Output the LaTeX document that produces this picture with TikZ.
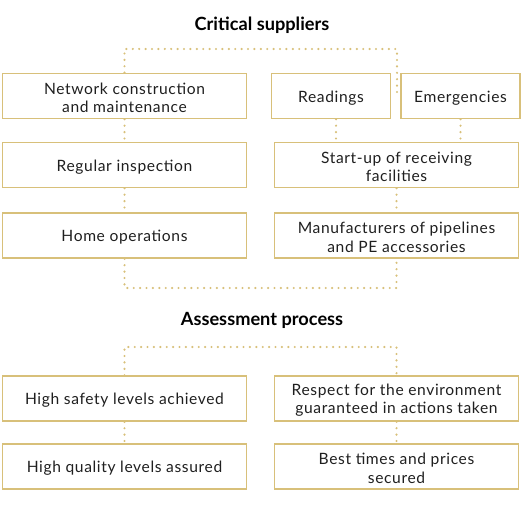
\documentclass[tikz,border=0pt]{standalone}
\usepackage{fontspec}
\setmainfont{Lato}[LetterSpace=4]
\newfontfamily\titlefont{Lato}[LetterSpace=0]
\definecolor{gold}{RGB}{216,192,122}
\begin{document}
\begin{tikzpicture}[x=1pt,y=-1pt,
  box/.style={draw=gold,line width=1.6pt,rectangle,inner sep=0pt,minimum height=45pt},
  lbl/.style={align=center,inner sep=0pt,yshift=-1.8pt,
    font=\fontsize{15.6}{18.5}\selectfont,text=black!88},
  wide/.style={box,minimum width=244pt},
  small/.style={box,minimum width=119pt},
  dots/.style={draw=gold,line width=2.4pt,line cap=round,dash pattern=on 0pt off 6.4pt},
  ttl/.style={font=\titlefont\bfseries\fontsize{18.2}{21}\selectfont,text=black}]
\useasboundingbox (0,0) rectangle (526,526);
\node[ttl] (t1) at (262,25) {Critical suppliers};
\node[ttl] (t2) at (262,320.5) {Assessment process};

\node[wide,label={[lbl]center:{Network construction\\and maintenance}}] (net) at (124.5,96) {};
\node[small,label={[lbl]center:{Readings}}] (read) at (331,96) {};
\node[small,label={[lbl]center:{Emergencies}}] (emerg) at (460.5,96) {};
\node[wide,label={[lbl]center:{Regular inspection}}] (reg) at (124.5,165) {};
\node[wide,label={[lbl]center:{Start-up of receiving\\facilities}}] (start) at (396.5,165) {};
\node[wide,label={[lbl]center:{Home operations}}] (home) at (124.5,235.5) {};
\node[wide,label={[lbl]center:{Manufacturers of pipelines\\and PE accessories}}] (manuf) at (396.5,235.5) {};

\node[wide,label={[lbl]center:{High safety levels achieved}}] (safe) at (124.5,398.5) {};
\node[wide,label={[lbl]center:{Respect for the environment\\guaranteed in actions taken}}] (resp) at (396.5,398.5) {};
\node[wide,label={[lbl]center:{High quality levels assured}}] (qual) at (124.5,466.5) {};
\node[wide,label={[lbl]center:{Best times and prices\\secured}}] (best) at (396.5,466.5) {};

\coordinate (tr) at (397,96);
\draw[dots] (net.north) -- (net.north |- 0,49) -| (tr);
\draw[dots] (net.south) -- (reg.north);
\draw[dots] (reg.south) -- (home.north);
\draw[dots] ([xshift=5pt]read.south) -- ([xshift=5pt]read.south |- start.north);
\draw[dots] (emerg.south) -- (emerg.south |- start.north);
\draw[dots] (start.south) -- (manuf.north);
\draw[dots] (home.south) -- (home.south |- 0,288) -| (manuf.south);
\draw[dots] (safe.north) -- (safe.north |- 0,347) -| (resp.north);
\draw[dots] (safe.south) -- (qual.north);
\draw[dots] (resp.south) -- (best.north);
\end{tikzpicture}
\end{document}
